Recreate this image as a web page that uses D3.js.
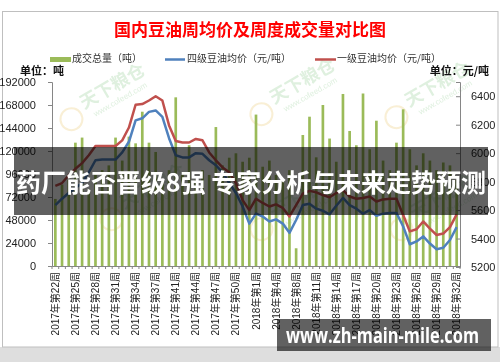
<!DOCTYPE html>
<html><head><meta charset="utf-8">
<script src="https://cdn.jsdelivr.net/npm/d3@7"></script>
<style>body{margin:0;background:#fff}svg{display:block}</style>
</head><body>
<script>
// ---- data ----
const weeks = [
 "2017年第22周","2017年第23周","2017年第24周","2017年第25周","2017年第26周","2017年第27周","2017年第28周","2017年第29周",
 "2017年第30周","2017年第31周","2017年第32周","2017年第33周","2017年第34周","2017年第35周","2017年第36周","2017年第37周",
 "2017年第38周","2017年第39周","2017年第41周","2017年第42周","2017年第43周","2017年第44周","2017年第45周","2017年第46周",
 "2017年第47周","2017年第48周","2017年第49周","2017年第50周","2017年第51周","2017年第52周",
 "2018年第1周","2018年第2周","2018年第3周","2018年第4周","2018年第5周","2018年第6周","2018年第8周","2018年第9周",
 "2018年第10周","2018年第11周","2018年第12周","2018年第13周","2018年第14周","2018年第15周","2018年第16周","2018年第17周",
 "2018年第18周","2018年第19周","2018年第20周","2018年第21周","2018年第22周","2018年第23周","2018年第24周","2018年第25周",
 "2018年第26周","2018年第27周","2018年第28周","2018年第29周","2018年第30周","2018年第31周","2018年第32周"
];
const volume = [
 70000,85000,90000,128700,134000,80000,95000,100000,105000,134000,
 110000,135000,128000,161000,128700,119000,90000,100000,176000,95000,
 126000,90000,100000,95000,145000,105000,113000,117600,108800,113000,
 158000,103600,110000,95000,90000,100000,18500,136700,155800,113400,
 168000,133000,108800,179500,140900,126000,180000,121800,151600,110000,
 100000,128700,163500,121800,105000,117600,110000,100000,108000,105000,90000
];
const price4 = [
 5635,5680,5720,5755,5790,5865,5950,5955,5955,5955,
 6005,6080,6230,6245,6290,6300,6255,6105,5985,5970,
 5970,6000,5995,5950,5915,5865,5790,5720,5625,5505,
 5575,5555,5520,5535,5505,5440,5530,5635,5645,5610,
 5595,5570,5630,5685,5635,5610,5575,5600,5560,5575,
 5580,5580,5485,5360,5380,5415,5365,5325,5335,5390,5480
];
const price1 = [
 5770,5790,5845,5890,5930,5985,6050,6050,6050,6050,
 6090,6180,6340,6345,6370,6400,6370,6195,6085,6075,
 6075,6100,6090,6005,5950,5900,5865,5790,5670,5600,
 5680,5650,5625,5640,5615,5555,5635,5715,5735,5725,
 5705,5690,5720,5740,5695,5680,5685,5695,5660,5675,
 5680,5680,5565,5450,5465,5520,5470,5425,5435,5480,5570
];
const volTicks = [0,24000,48000,72000,96000,120000,144000,168000,192000];
const priceTicks = [5200,5400,5600,5800,6000,6200,6400];
const volDomain = [0,192000];
const priceDomain = [5200,6500];
const seriesNames = ["成交总量（吨）","四级豆油均价（元/吨）","一级豆油均价（元/吨）"];
const colors = {bar:"#9bbb59", p4:"#4f81bd", p1:"#c0504d"};
const title = "国内豆油周均价及周度成交量对比图";
const overlayText = "药厂能否晋级8强 专家分析与未来走势预测";
const siteText = "www.zh-main-mile.com";

// ---- drawing ----
const W=500,H=362;
const font = "'Liberation Sans','Noto Sans CJK SC',sans-serif";
const svg = d3.select("body").append("svg").attr("width",W).attr("height",H)
  .style("font-family",font);

svg.append("rect").attr("x",0).attr("y",0).attr("width",W).attr("height",H).attr("fill","#fff");
svg.append("rect").attr("x",0).attr("y",347).attr("width",W).attr("height",15).attr("fill","#dedede");
svg.append("rect").attr("x",2.5).attr("y",11.5).attr("width",495.5).attr("height",335.5)
  .attr("fill","#fff").attr("stroke","#bfbfbf").attr("stroke-width",1);

const plot = {l:52,r:460,t:82,b:266};
const x = d3.scaleBand().domain(weeks).range([plot.l,plot.r]).paddingInner(0.6).paddingOuter(0.3);
const xb = d3.scaleBand().domain(weeks).range([plot.l,plot.r]);
const yL = d3.scaleLinear().domain(volDomain).range([plot.b,plot.t]);
const yR = d3.scaleLinear().domain(priceDomain).range([plot.b+1,plot.t]);

// watermarks
const wm = svg.append("g").attr("fill","#8cc98c").attr("opacity",0.28);
[[110,90],[300,85],[435,88],[150,190],[300,200],[440,200]].forEach(([cx,cy])=>{
  const g = wm.append("g").attr("transform",`translate(${cx},${cy}) rotate(-30)`);
  g.append("circle").attr("cx",-48).attr("cy",6).attr("r",11).attr("fill","none")
    .attr("stroke","#e8c46a").attr("stroke-width",2);
  g.append("text").attr("x",-32).attr("y",4).attr("font-size",18).attr("font-weight","bold")
    .attr("font-family","'Noto Sans CJK SC'").text("天下粮仓");
  g.append("text").attr("x",-26).attr("y",16).attr("font-size",8).text("www.cofeed.com");
});

// bars
svg.append("g").selectAll("rect").data(weeks).join("rect")
  .attr("x",d=>x(d)).attr("width",x.bandwidth())
  .attr("y",(d,i)=>yL(volume[i])).attr("height",(d,i)=>plot.b-yL(volume[i]))
  .attr("fill",colors.bar);

// lines
const line = arr => d3.line().x((d,i)=>xb(weeks[i])+xb.bandwidth()/2).y(d=>yR(d))(arr);
svg.append("path").attr("d",line(price4)).attr("fill","none").attr("stroke",colors.p4).attr("stroke-width",2.5).attr("stroke-linejoin","round");
svg.append("path").attr("d",line(price1)).attr("fill","none").attr("stroke",colors.p1).attr("stroke-width",2.5).attr("stroke-linejoin","round");

// axes
const axL = svg.append("g").attr("transform",`translate(${plot.l},0)`)
  .call(d3.axisLeft(yL).tickValues(volTicks).tickSize(4).tickPadding(12).tickFormat(d=>d));
const axR = svg.append("g").attr("transform",`translate(${plot.r},0)`)
  .call(d3.axisRight(yR).tickValues(priceTicks).tickSize(-4).tickPadding(11).tickFormat(d=>d));
const axB = svg.append("g").attr("transform",`translate(0,${plot.b})`)
  .call(d3.axisBottom(xb).tickSize(0).tickFormat((d,i)=> i%3===0 ? d : ""));
[axL,axR,axB].forEach(a=>{
  a.selectAll("path").attr("stroke","#868686");
  a.selectAll("line").attr("stroke","#868686");
  a.selectAll("text").attr("fill","#222").attr("font-size",11).style("font-family",font);
});
axB.selectAll("text").attr("font-size",10).attr("transform","rotate(-90)")
  .attr("text-anchor","end").attr("dx","-6").attr("dy","0.35em").attr("x",0).attr("y",0);
// category boundary ticks
svg.append("g").selectAll("line").data(weeks.concat(["_end"])).join("line")
  .attr("x1",(d,i)=>plot.l+i*xb.step()).attr("x2",(d,i)=>plot.l+i*xb.step())
  .attr("y1",plot.b).attr("y2",plot.b+3).attr("stroke","#868686");

// title
svg.append("text").attr("x",250).attr("y",36).attr("text-anchor","middle")
  .attr("fill","#ff0000").attr("font-size",17).attr("font-family","'Noto Sans CJK SC'")
  .attr("font-weight","bold").text(title);

// legend
const lg = svg.append("g").attr("font-size",10).attr("fill","#333").attr("font-family","'Noto Sans CJK SC'");
lg.append("rect").attr("x",50).attr("y",57).attr("width",21).attr("height",5).attr("fill",colors.bar);
lg.append("text").attr("x",72).attr("y",62).text(seriesNames[0]);
lg.append("line").attr("x1",165).attr("x2",185).attr("y1",59.5).attr("y2",59.5).attr("stroke",colors.p4).attr("stroke-width",2.5);
lg.append("text").attr("x",187).attr("y",62).text(seriesNames[1]);
lg.append("line").attr("x1",315).attr("x2",336).attr("y1",59.5).attr("y2",59.5).attr("stroke",colors.p1).attr("stroke-width",2.5);
lg.append("text").attr("x",337).attr("y",62).text(seriesNames[2]);

svg.append("text").attr("x",20).attr("y",75).attr("font-size",11).attr("font-weight","bold")
  .attr("font-family","'Noto Sans CJK SC'").attr("fill","#111").text("单位：吨");
svg.append("text").attr("x",489).attr("y",75).attr("font-size",11).attr("font-weight","bold")
  .attr("text-anchor","end").attr("font-family","'Noto Sans CJK SC'").attr("fill","#111").text("单位：元/吨");

// overlay band
svg.append("rect").attr("x",14).attr("y",147).attr("width",474).attr("height",68)
  .attr("fill","#000").attr("opacity",0.62);
svg.append("text").attr("x",16).attr("y",192).attr("font-size",25).attr("font-weight","bold")
  .attr("fill","#fff").attr("font-family","'Noto Sans CJK SC'")
  .attr("textLength",470).attr("lengthAdjust","spacingAndGlyphs").text(overlayText);

// site banner
svg.append("rect").attr("x",277).attr("y",319).attr("width",214).attr("height",32)
  .attr("fill","#000").attr("opacity",0.62);
svg.append("text").attr("x",286).attr("y",343).attr("font-size",21).attr("font-weight","bold")
  .attr("fill","#fff").attr("font-family","'Open Sans','Liberation Sans',sans-serif")
  .attr("textLength",193).attr("lengthAdjust","spacingAndGlyphs").text(siteText);
</script>
</body></html>
